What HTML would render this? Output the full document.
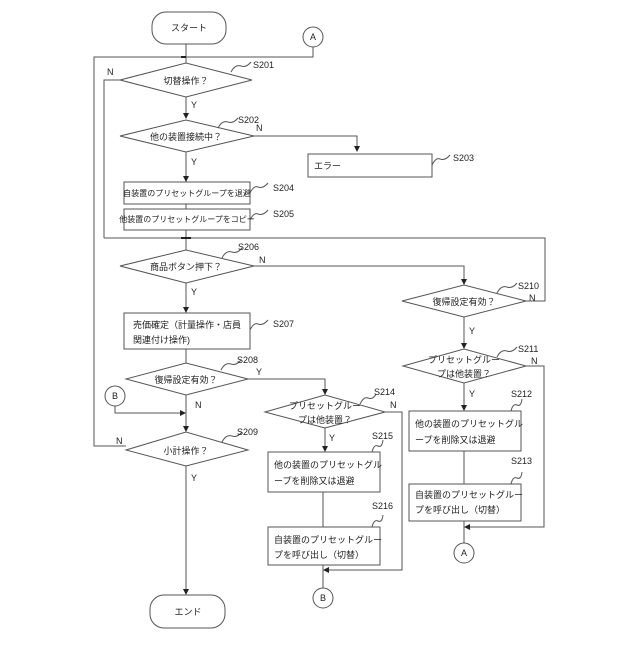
<!DOCTYPE html>
<html><head><meta charset="utf-8"><style>
html,body{margin:0;padding:0;background:#fff}
text{font-family:"Liberation Sans","Noto Sans CJK JP",sans-serif;font-size:9px;fill:#222}
</style></head><body>
<svg width="640" height="640" viewBox="0 0 640 640" xmlns="http://www.w3.org/2000/svg">
<defs><marker id="a" markerWidth="6" markerHeight="6" refX="5" refY="3" orient="auto"><path d="M0,0 L6,3 L0,6z" fill="#222"/></marker></defs>
<g fill="none" stroke="#555" stroke-width="1">
<rect x="152" y="12" width="74" height="32" rx="14"/>
<circle cx="313" cy="37" r="10"/>
<path d="M186,44 V57"/>
<path d="M313,47 V57 H94 V446 H126"/>
<path d="M186,57 V63"/>
<polygon points="120,80 186,63 252,80 186,97"/>
<path d="M120,80 H104 V238"/>
<path d="M186,97 V118" marker-end="url(#a)"/>
<polygon points="120,136 186,120 254,136 186,152"/>
<path d="M254,136 H357 V151" marker-end="url(#a)"/>
<rect x="308" y="154" width="124" height="23"/>
<path d="M186,152 V181" marker-end="url(#a)"/>
<rect x="124" y="182" width="126" height="22"/>
<path d="M186,204 V209"/>
<rect x="124" y="209" width="126" height="21"/>
<path d="M186,230 V250"/>
<path d="M104,238 H545 V301 H526"/>
<polygon points="120,266 186,250 254,266 186,283"/>
<path d="M254,266 H464 V284" marker-end="url(#a)"/>
<polygon points="402,301 464,285 526,301 464,317"/>
<path d="M186,283 V312" marker-end="url(#a)"/>
<rect x="124" y="313" width="126" height="36"/>
<path d="M186,349 V363"/>
<polygon points="126,379 186,363 248,379 186,395"/>
<path d="M248,379 H325 V394" marker-end="url(#a)"/>
<circle cx="115" cy="396" r="10"/>
<path d="M115,406 V413 H185" marker-end="url(#a)"/>
<path d="M186,395 V431" marker-end="url(#a)"/>
<polygon points="126,450 186,432 248,450 186,466"/>
<path d="M186,466 V594" marker-end="url(#a)"/>
<rect x="150" y="595" width="75" height="33" rx="14"/>
<polygon points="265,412 325,395 385,412 325,428"/>
<path d="M385,412 H402 V570 H324" marker-end="url(#a)"/>
<path d="M325,428 V451" marker-end="url(#a)"/>
<rect x="268" y="452" width="112" height="40"/>
<path d="M323,492 V527"/>
<rect x="268" y="527" width="112" height="38"/>
<path d="M323,565 V588"/>
<circle cx="323" cy="598" r="10"/>
<path d="M464,317 V348" marker-end="url(#a)"/>
<polygon points="403,366 464,349 526,366 464,383"/>
<path d="M526,366 H544 V527 H465" marker-end="url(#a)"/>
<path d="M464,383 V410" marker-end="url(#a)"/>
<rect x="409" y="411" width="112" height="40"/>
<path d="M464,451 V484"/>
<rect x="409" y="484" width="112" height="37"/>
<path d="M464,521 V543"/>
<circle cx="464" cy="553" r="10"/>
<path d="M181,57 L186,57" stroke="#222" stroke-width="2"/>
<path d="M181,238 L191,238" stroke="#222" stroke-width="2"/>
<!-- squiggles -->
<path d="M231,72 q4,-8 10,-6 q5,2 10,-4"/>
<path d="M218,128 q4,-8 10,-6 q5,2 10,-4"/>
<path d="M432,165 q4,-8 8,-6 q5,2 10,-4"/>
<path d="M250,193 q4,-8 8,-6 q5,2 10,-4"/>
<path d="M250,220 q4,-8 8,-6 q5,2 10,-4"/>
<path d="M222,258 q4,-8 10,-6 q5,2 10,-4"/>
<path d="M250,330 q4,-8 8,-6 q5,2 10,-4"/>
<path d="M221,370 q4,-8 10,-6 q5,2 10,-4"/>
<path d="M222,442 q4,-8 10,-6 q5,2 10,-4"/>
<path d="M497,293 q4,-8 10,-6 q5,2 10,-4"/>
<path d="M497,357 q4,-8 10,-6 q5,2 10,-4"/>
<path d="M360,404 q4,-8 8,-6 q5,2 8,-4"/>
<path d="M372,452 q2,-8 6,-6 q4,2 5,-6"/>
<path d="M372,527 q2,-8 6,-6 q4,2 5,-6"/>
<path d="M511,411 q2,-8 6,-6 q4,2 5,-6"/>
<path d="M511,484 q2,-8 6,-6 q4,2 5,-6"/>
</g>
<g>
<text x="189" y="31" text-anchor="middle">スタート</text>
<text x="313" y="40" text-anchor="middle">A</text>
<text x="186" y="84" text-anchor="middle">切替操作？</text>
<text x="253" y="68">S201</text>
<text x="107" y="75">N</text>
<text x="191" y="108">Y</text>
<text x="186" y="140" text-anchor="middle">他の装置接続中？</text>
<text x="238" y="123">S202</text>
<text x="256" y="131">N</text>
<text x="191" y="165">Y</text>
<text x="314" y="169">エラー</text>
<text x="453" y="161">S203</text>
<text x="187" y="196" text-anchor="middle" style="font-size:8px">自装置のプリセットグループを退避</text>
<text x="273" y="191">S204</text>
<text x="187" y="222" text-anchor="middle" style="font-size:8px">他装置のプリセットグループをコピー</text>
<text x="273" y="217">S205</text>
<text x="238" y="250">S206</text>
<text x="259" y="263">N</text>
<text x="186" y="270" text-anchor="middle">商品ボタン押下？</text>
<text x="191" y="295">Y</text>
<text x="133" y="328">売価確定（計量操作・店員</text>
<text x="133" y="343">関連付け操作)</text>
<text x="273" y="327">S207</text>
<text x="237" y="363">S208</text>
<text x="256" y="375">Y</text>
<text x="186" y="383" text-anchor="middle">復帰設定有効？</text>
<text x="115" y="399" text-anchor="middle">B</text>
<text x="195" y="408">N</text>
<text x="237" y="435">S209</text>
<text x="116" y="444">N</text>
<text x="186" y="454" text-anchor="middle">小計操作？</text>
<text x="191" y="481">Y</text>
<text x="188" y="615" text-anchor="middle">エンド</text>
<text x="518" y="289">S210</text>
<text x="529" y="301">N</text>
<text x="464" y="305" text-anchor="middle">復帰設定有効？</text>
<text x="469" y="334">Y</text>
<text x="518" y="352">S211</text>
<text x="531" y="364">N</text>
<text x="464" y="363" text-anchor="middle">プリセットグルー</text>
<text x="464" y="377" text-anchor="middle">プは他装置？</text>
<text x="469" y="397">Y</text>
<text x="511" y="397">S212</text>
<text x="415" y="427">他の装置のプリセットグル</text>
<text x="415" y="443">ープを削除又は退避</text>
<text x="511" y="464">S213</text>
<text x="415" y="498">自装置のプリセットグルー</text>
<text x="415" y="513">プを呼び出し（切替）</text>
<text x="464" y="556" text-anchor="middle">A</text>
<text x="374" y="395">S214</text>
<text x="390" y="408">N</text>
<text x="325" y="409" text-anchor="middle">プリセットグルー</text>
<text x="325" y="423" text-anchor="middle">プは他装置？</text>
<text x="329" y="441">Y</text>
<text x="372" y="439">S215</text>
<text x="274" y="468">他の装置のプリセットグル</text>
<text x="274" y="484">ープを削除又は退避</text>
<text x="372" y="509">S216</text>
<text x="274" y="543">自装置のプリセットグルー</text>
<text x="274" y="558">プを呼び出し（切替）</text>
<text x="323" y="601" text-anchor="middle">B</text>
</g>
</svg>
</body></html>
